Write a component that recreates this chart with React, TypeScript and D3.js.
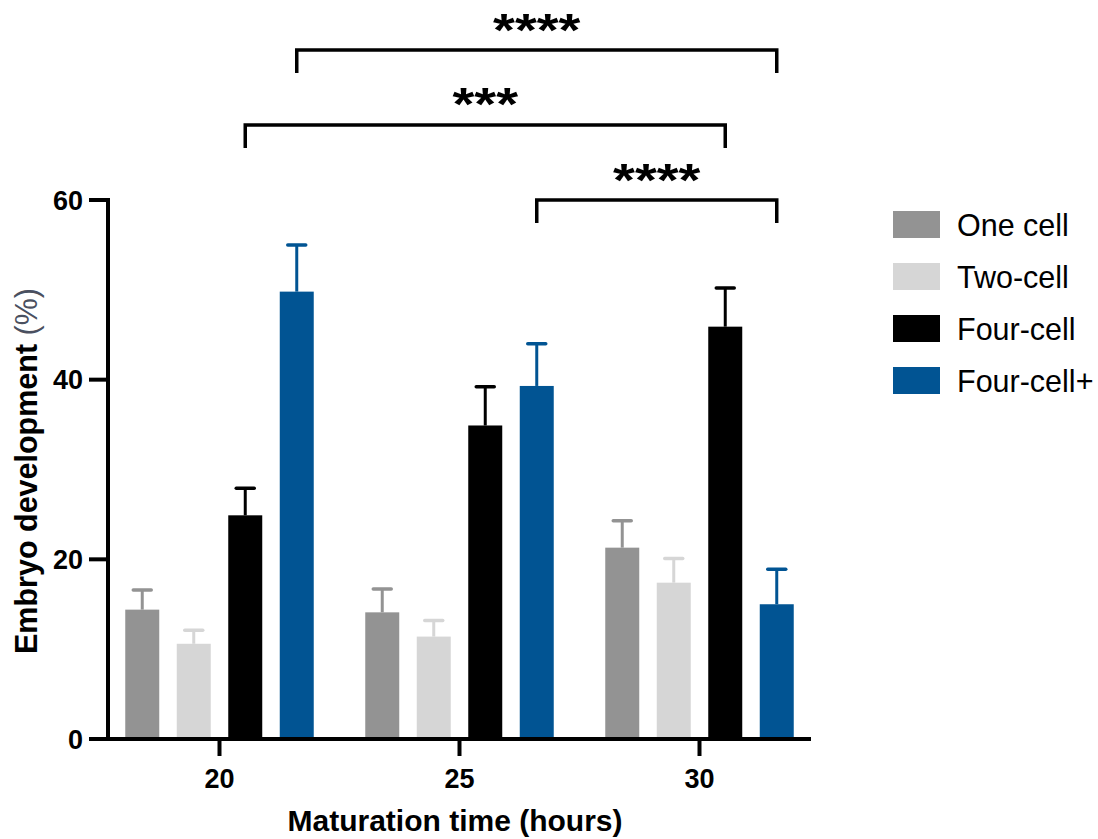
import React from "react";
import * as d3 from "d3";

const groups = ["20", "25", "30"];
const series = ["One cell", "Two-cell", "Four-cell", "Four-cell+"];
const colors = ["#939393", "#d6d6d6", "#000000", "#015493"];
const oneCell = [14.4, 14.1, 21.3];
const oneCellErr = [2.2, 2.6, 3.0];
const twoCell = [10.6, 11.4, 17.4];
const twoCellErr = [1.5, 1.8, 2.7];
const fourCell = [24.9, 34.9, 45.9];
const fourCellErr = [3.0, 4.3, 4.3];
const fourCellPlus = [49.8, 39.3, 15.0];
const fourCellPlusErr = [5.2, 4.7, 3.9];
const yTicks = [0, 20, 40, 60];

// significance brackets: [group index a, series a, group index b, series b, level, label]
const brackets: [number, number, number, number, number, string][] = [
  [0, 3, 2, 3, 0, "****"],
  [0, 2, 2, 2, 1, "***"],
  [1, 3, 2, 3, 2, "****"],
];

const values = [oneCell, twoCell, fourCell, fourCellPlus];
const errors = [oneCellErr, twoCellErr, fourCellErr, fourCellPlusErr];

const FONT = "'Liberation Sans', Arial, Helvetica, sans-serif";

export default function App() {
  const y = d3.scaleLinear().domain([0, 60]).range([739, 200]);
  const x = d3.scaleBand().domain(groups).range([99.5, 819.5]).padding(0);
  const inner = d3
    .scaleBand()
    .domain(series)
    .range([-103, 103])
    .paddingInner(0.34)
    .paddingOuter(0.17);
  const bw = inner.bandwidth();
  const gc = (g: number) => (x(groups[g]) as number) + x.bandwidth() / 2;
  const bc = (g: number, s: number) => gc(g) + (inner(series[s]) as number) + bw / 2;

  const bracketY = [50, 125, 200];
  const bracketTextY = [34, 108, 184];

  return (
    <svg width={1098} height={839} style={{ display: "block", position: "absolute", left: 0, top: 0 }}>
      <rect width={1098} height={839} fill="#fff" />
      {/* bars */}
      {series.map((s, si) =>
        groups.map((g, gi) => {
          const v = values[si][gi];
          const e = errors[si][gi];
          const cx = bc(gi, si);
          return (
            <g key={s + g}>
              <rect x={cx - bw / 2} y={y(v)} width={bw} height={y(0) - y(v)} fill={colors[si]} />
              <line x1={cx} x2={cx} y1={y(v)} y2={y(v + e)} stroke={colors[si]} strokeWidth={3} />
              <line
                x1={cx - 9}
                x2={cx + 9}
                y1={y(v + e)}
                y2={y(v + e)}
                stroke={colors[si]}
                strokeWidth={3.5}
                strokeLinecap="round"
              />
            </g>
          );
        })
      )}
      {/* axes */}
      <line x1={108} x2={108} y1={y(60) - 2} y2={y(0) + 2} stroke="#000" strokeWidth={4} />
      <line x1={106} x2={811} y1={y(0)} y2={y(0)} stroke="#000" strokeWidth={4} />
      {yTicks.map((t) => (
        <g key={t}>
          <line x1={89} x2={108} y1={y(t)} y2={y(t)} stroke="#000" strokeWidth={4} />
          <text
            x={83}
            y={y(t) + 9.5}
            textAnchor="end"
            fontFamily={FONT}
            fontWeight="bold"
            fontSize={27}
          >
            {t}
          </text>
        </g>
      ))}
      {groups.map((g, gi) => (
        <g key={g}>
          <line x1={gc(gi)} x2={gc(gi)} y1={y(0)} y2={y(0) + 17} stroke="#000" strokeWidth={4} />
          <text
            x={gc(gi)}
            y={788}
            textAnchor="middle"
            fontFamily={FONT}
            fontWeight="bold"
            fontSize={27}
          >
            {g}
          </text>
        </g>
      ))}
      <text x={455} y={831} textAnchor="middle" fontFamily={FONT} fontWeight="bold" fontSize={30}>
        Maturation time (hours)
      </text>
      <text
        transform="translate(37,471) rotate(-90)"
        textAnchor="middle"
        fontFamily={FONT}
        fontWeight="bold"
        fontSize={30.5}
      >
        Embryo development{" "}
        <tspan fontWeight="normal" fill="#4a5060">
          (%)
        </tspan>
      </text>
      {/* brackets */}
      {brackets.map(([ga, sa, gb, sb, lvl, label], i) => {
        const x1 = bc(ga, sa);
        const x2 = bc(gb, sb);
        const by = bracketY[lvl];
        return (
          <g key={i}>
            <path
              d={`M${x1},${by + 23}V${by}H${x2}V${by + 23}`}
              fill="none"
              stroke="#000"
              strokeWidth={3.5}
            />
            <text
              transform={`translate(${(x1 + x2) / 2},${bracketTextY[lvl] + 12}) scale(1.22,1)`}
              textAnchor="middle"
              fontFamily={FONT}
              fontWeight="bold"
              fontSize={46}
            >
              {label}
            </text>
          </g>
        );
      })}
      {/* legend */}
      {series.map((s, si) => (
        <g key={s} transform={`translate(893,${211 + si * 52})`}>
          <rect width={47} height={27} fill={colors[si]} />
          <text x={64} y={24.5} fontFamily={FONT} fontSize={30.5}>
            {s}
          </text>
        </g>
      ))}
    </svg>
  );
}
